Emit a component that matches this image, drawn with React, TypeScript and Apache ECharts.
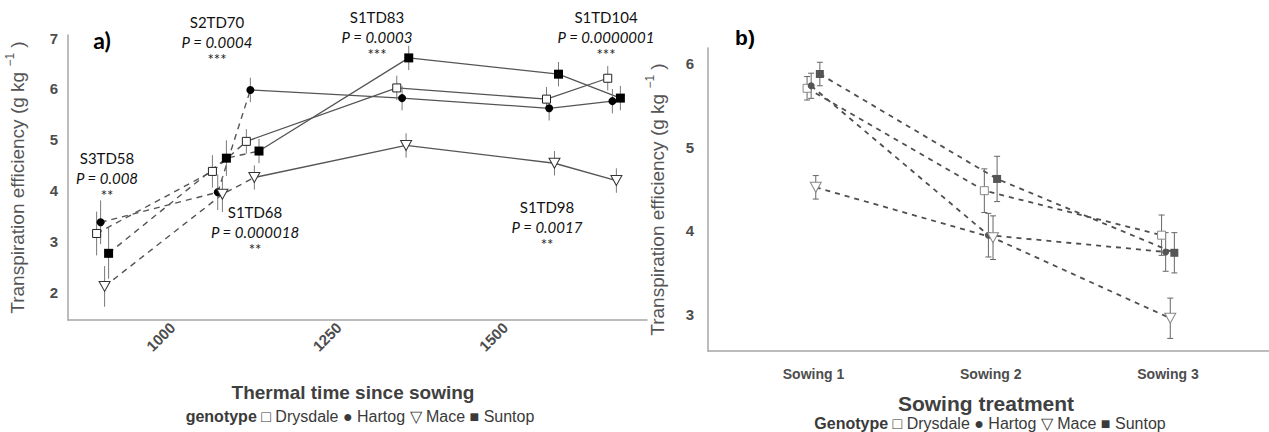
import React, { useEffect, useRef } from "react";
import * as echarts from "echarts";

// ---------- Data ----------
const genotypes = ["Drysdale", "Hartog", "Mace", "Suntop"];

// Panel a: thermal time since sowing (x) and transpiration efficiency (y)
const thermalDrysdale = [886, 1060, 1111, 1337, 1562, 1654];
const thermalHartog = [892, 1068, 1117, 1345, 1566, 1661];
const thermalMace = [898, 1075, 1123, 1351, 1574, 1667];
const thermalSuntop = [904, 1081, 1130, 1355, 1580, 1673];

const teDrysdale = [3.16, 4.38, 4.97, 6.02, 5.8, 6.21];
const teHartog = [3.38, 3.97, 5.98, 5.82, 5.62, 5.76];
const teMace = [2.12, 3.93, 4.26, 4.89, 4.54, 4.2];
const teSuntop = [2.77, 4.64, 4.78, 6.61, 6.29, 5.82];

const errDrysdale = [0.43, 0.32, 0.24, 0.24, 0.24, 0.24];
const errHartog = [0.43, 0.35, 0.24, 0.24, 0.24, 0.24];
const errMace = [0.4, 0.35, 0.24, 0.24, 0.24, 0.24];
const errSuntop = [0.5, 0.35, 0.24, 0.24, 0.24, 0.24];

const thermalTicks = [1000, 1250, 1500];
const teTicksA = [2, 3, 4, 5, 6, 7];

// Panel a annotations
const annotLabels = ["S3TD58", "S2TD70", "S1TD83", "S1TD104", "S1TD68", "S1TD98"];
const annotP = ["P = 0.008", "P = 0.0004", "P = 0.0003", "P = 0.0000001", "P = 0.000018", "P = 0.0017"];
const annotStars = ["**", "***", "***", "***", "**", "**"];

// Panel b: sowing treatment
const sowingCategories = ["Sowing 1", "Sowing 2", "Sowing 3"];
const sowDrysdale = [5.7, 4.48, 3.95];
const sowHartog = [5.73, 3.95, 3.75];
const sowMace = [4.52, 3.92, 2.96];
const sowSuntop = [5.87, 4.62, 3.74];

const sowErrDrysdale = [0.14, 0.26, 0.24];
const sowErrHartog = [0.15, 0.26, 0.23];
const sowErrMace = [0.14, 0.26, 0.24];
const sowErrSuntop = [0.14, 0.27, 0.24];

const teTicksB = [3, 4, 5, 6];

// ---------- Layout / style (not data) ----------
const annotPositions = [
  [107, 158],
  [217, 22],
  [377, 17],
  [606, 17],
  [255, 212],
  [547, 207],
];
const dodge = [-0.036, -0.013, 0.013, 0.036];

const markerA = [
  { symbol: "rect", size: 8, rotate: 0, color: "#ffffff", border: "#222222", bw: 1 },
  { symbol: "circle", size: 8, rotate: 0, color: "#000000", border: "#000000", bw: 0 },
  { symbol: "triangle", size: [11, 10], rotate: 180, color: "#ffffff", border: "#333333", bw: 1 },
  { symbol: "rect", size: 9, rotate: 0, color: "#000000", border: "#000000", bw: 0 },
];
const markerB = [
  { symbol: "rect", size: 8, rotate: 0, color: "#ffffff", border: "#888888", bw: 1 },
  { symbol: "circle", size: 7, rotate: 0, color: "#555555", border: "#555555", bw: 0 },
  { symbol: "triangle", size: [11, 10], rotate: 180, color: "#ffffff", border: "#888888", bw: 1 },
  { symbol: "rect", size: 8, rotate: 0, color: "#555555", border: "#555555", bw: 0 },
];

const AX = "#4d4d4d";
const SANS = "Liberation Sans, Arial, sans-serif";
const CAL = "Lato, sans-serif";

function errorSeries(xi: number, yi: number, data: number[][], color: string, cap: number) {
  return {
    type: "custom",
    xAxisIndex: xi,
    yAxisIndex: yi,
    silent: true,
    z: 3,
    encode: { x: 0, y: [1, 2] },
    data,
    renderItem: (_params: any, api: any) => {
      const x = api.value(0);
      const p1 = api.coord([x, api.value(1)]);
      const p2 = api.coord([x, api.value(2)]);
      const style = { stroke: color, lineWidth: 1 };
      const children: any[] = [
        { type: "line", shape: { x1: p1[0], y1: p1[1], x2: p2[0], y2: p2[1] }, style },
      ];
      if (cap > 0) {
        children.push({ type: "line", shape: { x1: p1[0] - cap, y1: p1[1], x2: p1[0] + cap, y2: p1[1] }, style });
        children.push({ type: "line", shape: { x1: p2[0] - cap, y1: p2[1], x2: p2[0] + cap, y2: p2[1] }, style });
      }
      return { type: "group", children };
    },
  };
}

function buildOption() {
  const thermal = [thermalDrysdale, thermalHartog, thermalMace, thermalSuntop];
  const te = [teDrysdale, teHartog, teMace, teSuntop];
  const err = [errDrysdale, errHartog, errMace, errSuntop];
  const sow = [sowDrysdale, sowHartog, sowMace, sowSuntop];
  const sowErr = [sowErrDrysdale, sowErrHartog, sowErrMace, sowErrSuntop];

  const series: any[] = [];

  genotypes.forEach((g, gi) => {
    const pts = thermal[gi].map((x, i) => [x, te[gi][i]]);
    series.push({
      type: "line",
      name: g + " a dashed",
      xAxisIndex: 0,
      yAxisIndex: 0,
      data: pts.slice(0, 3),
      symbol: "none",
      z: 1,
      lineStyle: { color: "#555555", width: 1.4, type: [6, 5] },
    });
    series.push({
      type: "line",
      name: g + " a solid",
      xAxisIndex: 0,
      yAxisIndex: 0,
      data: pts.slice(2),
      symbol: "none",
      z: 1,
      lineStyle: { color: "#555555", width: 1.3 },
    });
    series.push(
      errorSeries(
        0,
        0,
        thermal[gi].map((x, i) => [x, te[gi][i] - err[gi][i], te[gi][i] + err[gi][i]]),
        "#7a7a7a",
        0
      )
    );
  });
  genotypes.forEach((g, gi) => {
    const m = markerA[gi];
    series.push({
      type: "scatter",
      name: g,
      xAxisIndex: 0,
      yAxisIndex: 0,
      z: 5,
      data: thermal[gi].map((x, i) => [x, te[gi][i]]),
      symbol: m.symbol,
      symbolSize: m.size,
      symbolRotate: m.rotate,
      itemStyle: { color: m.color, borderColor: m.border, borderWidth: m.bw, opacity: 1 },
    });
  });

  genotypes.forEach((g, gi) => {
    const xs = sowingCategories.map((_c, ci) => ci + 1 + dodge[gi]);
    series.push({
      type: "line",
      name: g + " b",
      xAxisIndex: 1,
      yAxisIndex: 1,
      data: xs.map((x, i) => [x, sow[gi][i]]),
      symbol: "none",
      z: 1,
      lineStyle: { color: "#4f4f4f", width: 1.8, type: [5, 5] },
    });
    series.push(
      errorSeries(
        1,
        1,
        xs.map((x, i) => [x, sow[gi][i] - sowErr[gi][i], sow[gi][i] + sowErr[gi][i]]),
        "#666666",
        3
      )
    );
  });
  genotypes.forEach((g, gi) => {
    const m = markerB[gi];
    const xs = sowingCategories.map((_c, ci) => ci + 1 + dodge[gi]);
    series.push({
      type: "scatter",
      name: g + " b pts",
      xAxisIndex: 1,
      yAxisIndex: 1,
      z: 5,
      data: xs.map((x, i) => [x, sow[gi][i]]),
      symbol: m.symbol,
      symbolSize: m.size,
      symbolRotate: m.rotate,
      itemStyle: { color: m.color, borderColor: m.border, borderWidth: m.bw, opacity: 1 },
    });
  });

  const yName = "Transpiration efficiency (g kg {sup|−1} )";
  const yNameStyle = {
    fontFamily: SANS,
    fontSize: 19,
    color: "#555555",
    rich: { sup: { fontFamily: SANS, fontSize: 12, color: "#555555", padding: [0, 0, 14, 0] } },
  };

  const legendItems = "□ Drysdale ● Hartog ▽ Mace ■ Suntop";

  const graphic: any[] = [];
  annotLabels.forEach((lab, i) => {
    const [cx, cy] = annotPositions[i];
    graphic.push({
      type: "text",
      x: cx,
      y: cy,
      style: { text: lab, font: `15px ${CAL}`, fill: "#111111", align: "center", verticalAlign: "middle" },
    });
    graphic.push({
      type: "text",
      x: cx,
      y: cy + 20,
      style: { text: annotP[i], font: `italic 15px ${CAL}`, fill: "#111111", align: "center", verticalAlign: "middle" },
    });
    graphic.push({
      type: "text",
      x: cx,
      y: cy + 37,
      style: { text: annotStars[i], font: `15px ${CAL}`, fill: "#222222", align: "center", verticalAlign: "middle" },
    });
  });
  graphic.push({
    type: "text",
    x: 102,
    y: 40,
    style: { text: "a)", font: `bold 23px ${CAL}`, fill: "#000000", align: "center", verticalAlign: "middle" },
  });
  graphic.push({
    type: "text",
    x: 745,
    y: 37,
    style: { text: "b)", font: `bold 21px ${SANS}`, fill: "#000000", align: "center", verticalAlign: "middle" },
  });
  graphic.push({
    type: "text",
    x: 353,
    y: 392,
    style: { text: "Thermal time since sowing", font: `bold 19px ${SANS}`, fill: "#404040", align: "center", verticalAlign: "middle" },
  });
  graphic.push({
    type: "text",
    x: 986,
    y: 403,
    style: { text: "Sowing treatment", font: `bold 21px ${SANS}`, fill: "#404040", align: "center", verticalAlign: "middle" },
  });
  graphic.push({
    type: "text",
    x: 360,
    y: 416,
    style: {
      text: "{b|genotype} " + legendItems,
      font: `16px ${SANS}`,
      fill: "#3a3a3a",
      align: "center",
      verticalAlign: "middle",
      rich: { b: { fontFamily: SANS, fontSize: 16, fontWeight: "bold", fill: "#3a3a3a" } },
    },
  });
  graphic.push({
    type: "text",
    x: 990,
    y: 423,
    style: {
      text: "{b|Genotype} " + legendItems,
      font: `16px ${SANS}`,
      fill: "#3a3a3a",
      align: "center",
      verticalAlign: "middle",
      rich: { b: { fontFamily: SANS, fontSize: 16, fontWeight: "bold", fill: "#3a3a3a" } },
    },
  });

  return {
    animation: false,
    backgroundColor: "#ffffff",
    grid: [
      { left: 68, right: 622, top: 35, bottom: 112 },
      { left: 708, right: 0, top: 48, bottom: 81 },
    ],
    xAxis: [
      {
        gridIndex: 0,
        type: "value",
        min: 843,
        max: 1713,
        splitLine: { show: false },
        axisTick: { show: false },
        axisLine: { show: true, lineStyle: { color: "#a6a6a6", width: 1.5 } },
        axisLabel: {
          customValues: thermalTicks,
          formatter: (v: number) => String(Math.round(v)),
          rotate: 45,
          margin: 5,
          fontFamily: SANS,
          fontWeight: "bold",
          fontSize: 15,
          color: AX,
        },
      },
      {
        gridIndex: 1,
        type: "value",
        min: 0.405,
        max: 3.57,
        splitLine: { show: false },
        axisTick: { show: false },
        axisLine: { show: true, lineStyle: { color: "#a6a6a6", width: 1.5 } },
        axisLabel: {
          customValues: [1, 2, 3],
          formatter: (v: number) => sowingCategories[Math.round(v) - 1] ?? "",
          margin: 16,
          fontFamily: SANS,
          fontWeight: "bold",
          fontSize: 14,
          color: AX,
        },
      },
    ],
    yAxis: [
      {
        gridIndex: 0,
        type: "value",
        min: 1.46,
        max: 7.06,
        splitLine: { show: false },
        axisTick: { show: false },
        axisLine: { show: true, lineStyle: { color: "#a6a6a6", width: 1.5 } },
        axisLabel: { customValues: teTicksA, margin: 10, fontFamily: SANS, fontWeight: "bold", fontSize: 15, color: AX },
        name: yName,
        nameLocation: "middle",
        nameRotate: 90,
        nameGap: 38,
        nameTextStyle: yNameStyle,
      },
      {
        gridIndex: 1,
        type: "value",
        min: 2.57,
        max: 6.18,
        splitLine: { show: false },
        axisTick: { show: false },
        axisLine: { show: true, lineStyle: { color: "#a6a6a6", width: 1.5 } },
        axisLabel: { customValues: teTicksB, margin: 14, fontFamily: SANS, fontWeight: "bold", fontSize: 15, color: AX },
        name: yName,
        nameLocation: "middle",
        nameRotate: 90,
        nameGap: 38,
        nameTextStyle: yNameStyle,
      },
    ],
    series,
    graphic,
  };
}

export default function App() {
  const ref = useRef<HTMLDivElement>(null);
  useEffect(() => {
    if (!ref.current) return;
    const chart = echarts.init(ref.current, undefined, { renderer: "svg" });
    chart.setOption(buildOption() as any);
    return () => chart.dispose();
  }, []);
  return (
    <div
      ref={ref}
      style={{ position: "fixed", left: 0, top: 0, width: 1269, height: 432, background: "#ffffff" }}
    />
  );
}
